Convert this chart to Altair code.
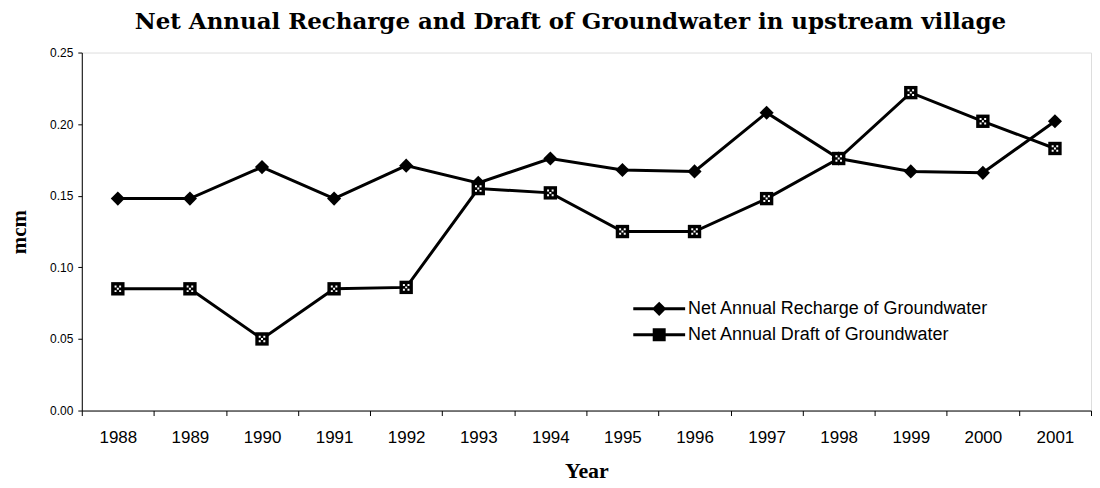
import altair as alt
import pandas as pd

years = [1988, 1989, 1990, 1991, 1992, 1993, 1994, 1995, 1996, 1997, 1998, 1999, 2000, 2001]
recharge = [0.148, 0.148, 0.170, 0.148, 0.171, 0.159, 0.176, 0.168, 0.167, 0.208, 0.176, 0.167, 0.166, 0.202]
draft = [0.085, 0.085, 0.050, 0.085, 0.086, 0.155, 0.152, 0.125, 0.125, 0.148, 0.176, 0.222, 0.202, 0.183]
s_recharge = "Net Annual Recharge of Groundwater"
s_draft = "Net Annual  Draft of Groundwater"
series_order = [s_recharge, s_draft]

df = pd.DataFrame(
    [{"Year": y, "value": v, "series": s_recharge} for y, v in zip(years, recharge)]
    + [{"Year": y, "value": v, "series": s_draft} for y, v in zip(years, draft)]
)

SERIF = "Liberation Serif"
SANS = "Liberation Sans"

x = alt.X(
    "Year:O",
    bandPosition=0.5,
    scale=alt.Scale(type="band", paddingInner=0, paddingOuter=0),
    axis=alt.Axis(
        title="Year", labelAngle=0, tickBand="extent", tickSize=5,
        labelPadding=14, labelFont=SANS, labelFontSize=17, labelColor="black",
        titleFont=SERIF, titleFontSize=22, titleFontWeight="bold", titlePadding=15,
        domainColor="black", tickColor="black", grid=False,
    ),
)
y = alt.Y(
    "value:Q",
    scale=alt.Scale(domain=[0, 0.25], nice=False),
    axis=alt.Axis(
        title="mcm", values=[0, 0.05, 0.1, 0.15, 0.2, 0.25], format=".2f",
        tickSize=4, labelPadding=5, labelFont=SANS, labelFontSize=12, labelColor="black",
        titleFont=SERIF, titleFontSize=21, titleFontWeight="bold", titlePadding=20,
        domainColor="black", tickColor="black", grid=False,
    ),
)

# legend symbols: a 3px line through the marker (filled sub-paths)
legend_paths = [
    "M-2,-0.115L2,-0.115L2,0.115L-2,0.115Z M0,-0.55L0.55,0L0,0.55L-0.55,0Z",
    "M-2,-0.115L2,-0.115L2,0.115L-2,0.115Z M-0.5,-0.5L0.5,-0.5L0.5,0.5L-0.5,0.5Z",
]

lines = alt.Chart(df).mark_line(strokeWidth=3, color="black").encode(
    x=x, y=y, detail="series:N",
)

points = alt.Chart(df).mark_point(filled=True, opacity=1, color="black").encode(
    x=x, y=y,
    shape=alt.Shape("series:N", scale=alt.Scale(domain=series_order, range=["diamond", "square"]), legend=None),
    size=alt.Size("series:N", scale=alt.Scale(domain=series_order, range=[200, 180]), legend=None),
)

dots_path = ("M-0.6,-0.6h0.36v0.36h-0.36z M0.24,-0.6h0.36v0.36h-0.36z "
             "M-0.6,0.24h0.36v0.36h-0.36z M0.24,0.24h0.36v0.36h-0.36z "
             "M-0.18,-0.18h0.36v0.36h-0.36z")
dots = alt.Chart(df[df["series"] == s_draft]).mark_point(
    filled=True, opacity=1, color="white", shape=dots_path, size=120
).encode(x=x, y=y)

legend_layer = alt.Chart(df).mark_point(opacity=0, filled=True, color="black").encode(
    x=x, y=y,
    shape=alt.Shape(
        "series:N",
        scale=alt.Scale(domain=series_order, range=legend_paths),
        legend=alt.Legend(
            title=None, orient="none", legendX=566, legendY=244, padding=0,
            symbolSize=676, symbolStrokeWidth=0, symbolFillColor="black",
            symbolOpacity=1, rowPadding=4, labelOffset=16,
            labelFont=SANS, labelFontSize=18, labelColor="black", labelLimit=500,
        ),
    ),
)

chart = alt.layer(lines, points, dots, legend_layer).resolve_scale(
    shape="independent"
).properties(
    width=1012, height=359,
    padding={"left": 0, "top": 2, "right": 0, "bottom": 0},
    title=alt.TitleParams(
        "Net Annual Recharge and Draft of Groundwater in upstream village",
        font="DejaVu Serif", fontSize=23, fontWeight="bold", color="black",
        offset=13, frame="group", anchor="middle", dx=-16,
    ),
).configure_view(stroke=None).configure(background="white")

chart.save("out.html", embed_options={"renderer": "svg", "actions": False})
